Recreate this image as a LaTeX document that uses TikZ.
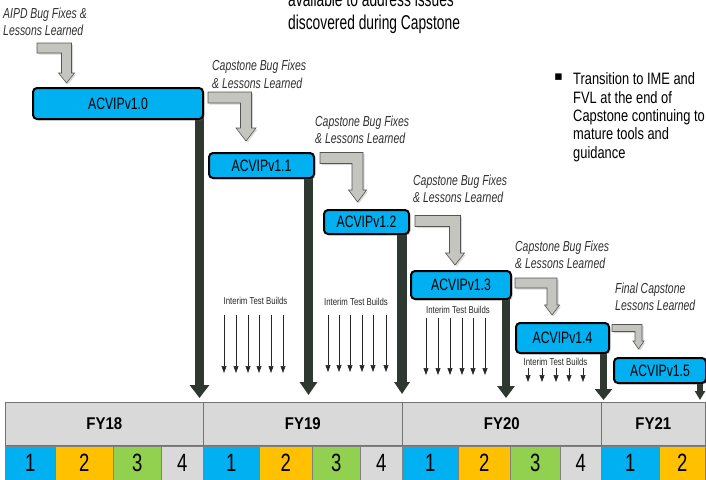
\documentclass[tikz,border=0pt]{standalone}
\usepackage{fontspec}
\setmainfont{Liberation Sans}
\newfontfamily\nA[FakeStretch=0.74]{Liberation Sans}
\newfontfamily\nB[FakeStretch=0.72]{Liberation Sans}
\newfontfamily\nC[FakeStretch=0.78]{Liberation Sans}
\newfontfamily\nD[FakeStretch=0.69]{Liberation Sans}
\newfontfamily\nF[FakeStretch=0.88]{Liberation Sans}
\newfontfamily\bulfont{DejaVu Sans}
\usetikzlibrary{arrows.meta,shadows,calc,backgrounds}
\definecolor{vcyan}{HTML}{00B0F0}
\definecolor{qyel}{HTML}{FFC000}
\definecolor{qgrn}{HTML}{92D050}
\definecolor{qgry}{HTML}{D9D9D9}
\definecolor{fygray}{HTML}{D9D9D9}
\definecolor{darkbar}{HTML}{2F3731}
\definecolor{bentfill}{HTML}{C4C5BF}
\definecolor{bentline}{HTML}{555555}
\definecolor{labgray}{HTML}{303030}
% #1 start (band centre, left end), #2 tip, #3 half thickness, #4 head half width, #5 head length
\newcommand\bentarrow[5]{%
  \draw[bent] let \p1=(#1), \p2=(#2) in
    (\x1,\y1+#3) -- (\x2+#3,\y1+#3) -- (\x2+#3,\y2+#5) -- (\x2+#4,\y2+#5) --
    (\x2,\y2) -- (\x2-#4,\y2+#5) -- (\x2-#3,\y2+#5) -- (\x2-#3,\y1-#3) --
    (\x1,\y1-#3) -- cycle;}
\tikzset{
  vbox/.style={draw=black, line width=2pt, fill=vcyan, rounded corners=4pt,
    inner sep=0pt, anchor=north west, font=\nA\fontsize{16.5}{19}\selectfont,
    drop shadow={shadow xshift=1.5pt, shadow yshift=-1.5pt, opacity=0.35}},
  bent/.style={fill=bentfill, draw=bentline, line width=0.6pt,
    drop shadow={shadow xshift=1.5pt, shadow yshift=-1.5pt, opacity=0.3}},
  dbar/.style={draw=darkbar},
  lab/.style={font=\nB\itshape\fontsize{14.5}{17.5}\selectfont, text=labgray,
    align=left, inner sep=0pt, anchor=north west},
  itb/.style={font=\nC\fontsize{10}{12}\selectfont, text=black!85, inner sep=0pt},
  ib/.style={draw=black!85, line width=0.6pt, -{Triangle[width=5pt,length=7pt]}},
  fy/.style={draw=black!55, line width=0.6pt, fill=fygray, anchor=north west,
    minimum height=43pt, inner sep=0pt, font=\nF\bfseries\fontsize{17}{20}\selectfont},
  qc/.style={draw=black!50, line width=0.4pt, anchor=north west, minimum height=34pt,
    inner sep=0pt, font=\nA\fontsize{25}{28}\selectfont},
}
\begin{document}
\begin{tikzpicture}[x=1pt,y=-1pt]
\useasboundingbox (0,0) rectangle (706,479);

% top text (cut by the top edge, as in the reference)
\node[font=\nD\fontsize{20}{23}\selectfont, align=left, inner sep=0pt, anchor=north west]
  (toptext) at (288,-8.5) {available to address issues\\discovered during Capstone};

% right bullet text
\node[font=\bulfont\fontsize{13}{15}\selectfont, inner sep=0pt] (bul) at (558.5,77.5) {▪};
\node[font=\nC\fontsize{16.5}{18.3}\selectfont, align=left, inner sep=0pt, anchor=north west]
  (righttext) at (573,72.8) {Transition to IME and\\FVL at the end of\\Capstone continuing to\\mature tools and\\guidance};

% labels
\node[lab] (l0) at (3,7.4) {AIPD Bug Fixes \&\\Lessons Learned};
\node[lab] (l1) at (212,60) {Capstone Bug Fixes\\\& Lessons Learned};
\node[lab] (l2) at (315,115.4) {Capstone Bug Fixes\\\& Lessons Learned};
\node[lab] (l3) at (413,174.4) {Capstone Bug Fixes\\\& Lessons Learned};
\node[lab] (l4) at (515,240.4) {Capstone Bug Fixes\\\& Lessons Learned};
\node[lab] (l5) at (615,282.4) {Final Capstone\\Lessons Learned};

% version boxes
\node[vbox, minimum width=170pt, minimum height=31pt] (v0) at (32,87) {ACVIPv1.0};
\node[vbox, minimum width=105pt, minimum height=25pt] (v1) at (208,152) {ACVIPv1.1};
\node[vbox, minimum width=85pt, minimum height=24pt] (v2) at (323,209) {ACVIPv1.2};
\node[vbox, minimum width=100pt, minimum height=28pt] (v3) at (410,270) {ACVIPv1.3};
\node[vbox, minimum width=93pt, minimum height=30pt] (v4) at (515,322) {ACVIPv1.4};
\node[vbox, minimum width=92pt, minimum height=25pt] (v5) at (613,357) {ACVIPv1.5};

% gray bent arrows
\coordinate (g0s) at (37,48);    \coordinate (g0e) at (66.5,83);
\coordinate (g1s) at (208,97.5); \coordinate (g1e) at (246,141);
\coordinate (g2s) at (320,158);  \coordinate (g2e) at (357.5,202);
\coordinate (g3s) at (415,221);  \coordinate (g3e) at (455,265);
\coordinate (g4s) at (515,283);  \coordinate (g4e) at (552,315);
\coordinate (g5s) at (612,328);  \coordinate (g5e) at (638.5,349);
\bentarrow{g0s}{g0e}{5pt}{8pt}{10pt}
\bentarrow{g1s}{g1e}{5.5pt}{10pt}{13pt}
\bentarrow{g2s}{g2e}{5.5pt}{9pt}{12pt}
\bentarrow{g3s}{g3e}{5.5pt}{9.5pt}{12pt}
\bentarrow{g4s}{g4e}{5pt}{7.5pt}{10pt}
\bentarrow{g5s}{g5e}{3.5pt}{5.5pt}{8pt}

% dark release arrows
\coordinate (t0) at (199.5,398);
\coordinate (t1) at (308.5,395);
\coordinate (t2) at (402,394);
\coordinate (t3) at (506,398);
\coordinate (t4) at (603.5,400);
\coordinate (t5) at (700,400);
\begin{scope}[on background layer]
\draw[dbar, line width=9pt, -{Triangle[width=19pt,length=13pt]}] (t0 |- v0.center) -- (t0);
\draw[dbar, line width=9pt, -{Triangle[width=17pt,length=13pt]}] (t1 |- v1.center) -- (t1);
\draw[dbar, line width=10pt, -{Triangle[width=15pt,length=12pt]}] (t2 |- v2.center) -- (t2);
\draw[dbar, line width=8pt, -{Triangle[width=17pt,length=12pt]}] (t3 |- v3.center) -- (t3);
\draw[dbar, line width=7pt, -{Triangle[width=17pt,length=11pt]}] (t4 |- v4.center) -- (t4);
\draw[dbar, line width=6pt, -{Triangle[width=10pt,length=9pt]}] (t5 |- v5.center) -- (t5);
\end{scope}

% interim test builds
\node[itb] (i1) at (255.5,301) {Interim Test Builds};
\node[itb] (i2) at (356,302) {Interim Test Builds};
\node[itb] (i3) at (458,310) {Interim Test Builds};
\node[itb] (i4) at (555.5,362) {Interim Test Builds};
\foreach \x in {224,236,248,259,271,283} \draw[ib] (\x,315) -- (\x,373);
\foreach \x in {328,339,350,362,373,386} \draw[ib] (\x,315) -- (\x,372);
\foreach \x in {426,438,450,462,473,485} \draw[ib] (\x,318) -- (\x,375);
\foreach \x in {528,542,556,569,583} \draw[ib] (\x,368) -- (\x,382);

% fiscal years
\node[fy, minimum width=198pt] (fy18) at (5,402) {FY18};
\node[fy, minimum width=199pt] (fy19) at (203,402) {FY19};
\node[fy, minimum width=199pt] (fy20) at (402,402) {FY20};
\node[fy, minimum width=104pt] (fy21) at (601,402) {FY21};

% quarters
\node[qc, fill=vcyan, minimum width=50pt] (q181) at (5,446) {1};
\node[qc, fill=qyel, minimum width=58pt] (q182) at (55,446) {2};
\node[qc, fill=qgrn, minimum width=48pt] (q183) at (113,446) {3};
\node[qc, fill=qgry, minimum width=42pt] (q184) at (161,446) {4};
\node[qc, fill=vcyan, minimum width=56pt] (q191) at (203,446) {1};
\node[qc, fill=qyel, minimum width=53pt] (q192) at (259,446) {2};
\node[qc, fill=qgrn, minimum width=48pt] (q193) at (312,446) {3};
\node[qc, fill=qgry, minimum width=42pt] (q194) at (360,446) {4};
\node[qc, fill=vcyan, minimum width=56pt] (q201) at (402,446) {1};
\node[qc, fill=qyel, minimum width=52pt] (q202) at (458,446) {2};
\node[qc, fill=qgrn, minimum width=50pt] (q203) at (510,446) {3};
\node[qc, fill=qgry, minimum width=41pt] (q204) at (560,446) {4};
\node[qc, fill=vcyan, minimum width=58pt] (q211) at (601,446) {1};
\node[qc, fill=qyel, minimum width=46pt] (q212) at (659,446) {2};
\end{tikzpicture}
\end{document}
